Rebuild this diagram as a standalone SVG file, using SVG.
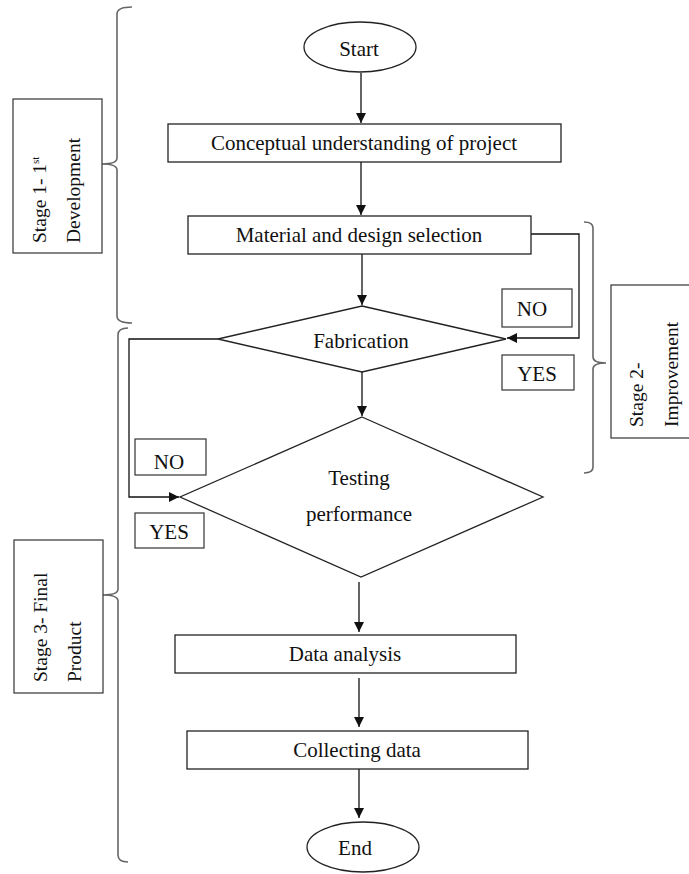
<svg xmlns="http://www.w3.org/2000/svg" width="689" height="874" viewBox="0 0 689 874">
<style>
.shape{fill:#fff;stroke:#222;stroke-width:1.3}
.lbl{fill:#fff;stroke:#333;stroke-width:1.2}
.t{font-family:"Liberation Serif","Times New Roman",serif;font-size:21px;fill:#111;text-anchor:middle}
.r{font-family:"Liberation Serif","Times New Roman",serif;font-size:19.5px;fill:#111}
.c{fill:none;stroke:#111;stroke-width:1.3}
.br{fill:none;stroke:#666;stroke-width:1.6}
</style>
<defs>
<marker id="ah" viewBox="0 0 10 10" refX="10" refY="5" markerWidth="10" markerHeight="10" markerUnits="userSpaceOnUse" orient="auto">
<path d="M0,0 L10,5 L0,10 z" fill="#111"/>
</marker>
</defs>
<g id="brackets">
<path class="br" d="M132,7 Q117,7 117,14 L117,158 Q117,164 102,164 Q117,164 117,170 L117,316 Q117,323 132,323"/>
<path class="br" d="M128,328 Q118,328 118,335 L118,589 Q118,595 103,595 Q118,595 118,601 L118,855 Q118,862 128,862"/>
<path class="br" d="M584,222 Q593,222 593,228 L593,357 Q593,363 606,363 Q593,363 593,369 L593,467 Q593,473 584,473"/>
</g>
<g id="connectors">
<line class="c" x1="361" y1="73" x2="361" y2="123" marker-end="url(#ah)"/>
<line class="c" x1="361" y1="162" x2="361" y2="215" marker-end="url(#ah)"/>
<line class="c" x1="362" y1="254" x2="362" y2="305" marker-end="url(#ah)"/>
<polyline class="c" points="528,234 579,234 579,338 507,338" marker-end="url(#ah)"/>
<line class="c" x1="362" y1="372" x2="362" y2="416" marker-end="url(#ah)"/>
<polyline class="c" points="218,339 129,339 129,497 179,497" marker-end="url(#ah)"/>
<line class="c" x1="359" y1="582" x2="359" y2="632" marker-end="url(#ah)"/>
<line class="c" x1="359" y1="678" x2="359" y2="727" marker-end="url(#ah)"/>
<line class="c" x1="359" y1="769" x2="359" y2="818" marker-end="url(#ah)"/>
</g>
<g id="start"><ellipse class="shape" cx="360" cy="47" rx="56" ry="25"/><text class="t" x="359" y="56">Start</text></g>
<g id="concept"><rect class="shape" x="168" y="124" width="393" height="38"/><text class="t" x="364" y="150">Conceptual understanding of project</text></g>
<g id="material"><rect class="shape" x="188" y="216" width="343" height="38"/><text class="t" x="359" y="242">Material and design selection</text></g>
<g id="fabrication"><polygon class="shape" points="362,306 506,339 362,372 218,339"/><text class="t" x="361" y="348">Fabrication</text></g>
<g id="testing"><polygon class="shape" points="362,417 543,497 361,577 180,497"/><text class="t" x="359" y="485">Testing</text><text class="t" x="359" y="521">performance</text></g>
<g id="data-analysis"><rect class="shape" x="175" y="635" width="341" height="38"/><text class="t" x="345" y="661">Data analysis</text></g>
<g id="collecting"><rect class="shape" x="187" y="731" width="341" height="38"/><text class="t" x="357" y="757">Collecting data</text></g>
<g id="end"><ellipse class="shape" cx="363" cy="847" rx="56" ry="25"/><text class="t" x="355" y="855">End</text></g>
<g id="no-right"><rect class="lbl" x="502" y="289" width="70" height="38"/><text class="t" x="532" y="316">NO</text></g>
<g id="yes-right"><rect class="lbl" x="502" y="355" width="72" height="35"/><text class="t" x="537" y="381">YES</text></g>
<g id="no-left"><rect class="lbl" x="135" y="439" width="71" height="36"/><text class="t" x="169" y="469">NO</text></g>
<g id="yes-left"><rect class="lbl" x="135" y="513" width="69" height="35"/><text class="t" x="169" y="539">YES</text></g>
<g id="stage1"><rect class="lbl" x="13" y="99" width="89" height="154"/>
<text class="r" transform="translate(46,243) rotate(-90)">Stage 1- 1<tspan font-size="11" dy="-7">st</tspan></text>
<text class="r" transform="translate(80,243) rotate(-90)">Development</text></g>
<g id="stage2"><rect class="lbl" x="611" y="285" width="80" height="153"/>
<text class="r" transform="translate(643,427) rotate(-90)">Stage 2-</text>
<text class="r" transform="translate(678,427) rotate(-90)">Improvement</text></g>
<g id="stage3"><rect class="lbl" x="14" y="540" width="89" height="153"/>
<text class="r" transform="translate(47,682) rotate(-90)">Stage 3- Final</text>
<text class="r" transform="translate(81,682) rotate(-90)">Product</text></g>
</svg>
